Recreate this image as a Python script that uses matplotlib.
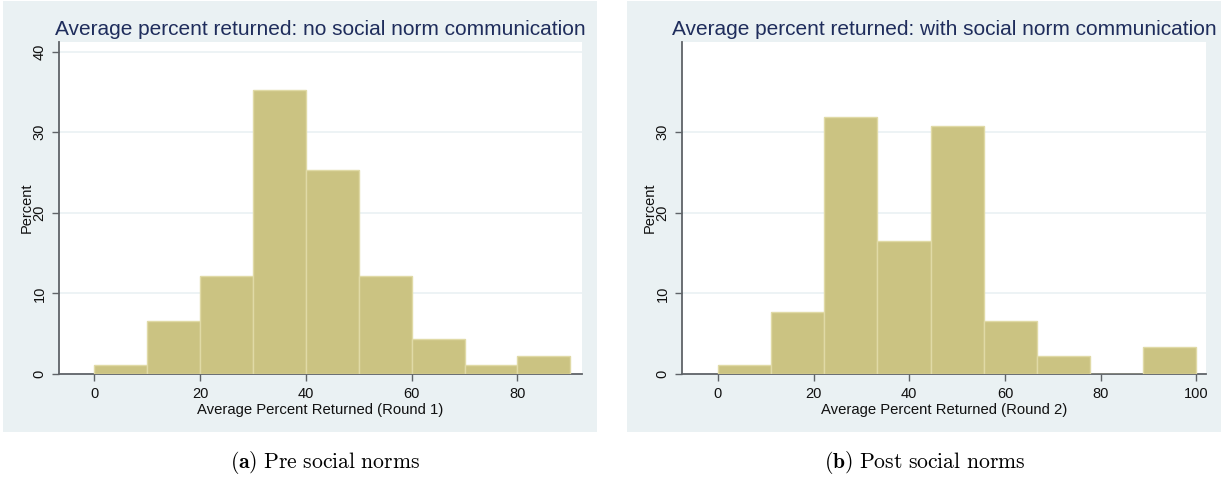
import matplotlib
matplotlib.use("Agg")
import matplotlib.pyplot as plt
import matplotlib.patches as patches

# histogram data (percent of subjects per bin)
bins_r1 = [0, 10, 20, 30, 40, 50, 60, 70, 80]
pct_r1 = [1.1, 6.6, 12.1, 35.2, 25.3, 12.1, 4.4, 1.1, 2.2]
width_r1 = 10

bins_r2 = [0, 11.11, 22.22, 33.33, 44.44, 55.56, 66.67, 77.78, 88.89]
pct_r2 = [1.1, 7.7, 31.9, 16.5, 30.8, 6.6, 2.2, 0, 3.3]
width_r2 = 11.11

titles = ["Average percent returned: no social norm communication",
          "Average percent returned: with social norm communication"]
xlabels = ["Average Percent Returned (Round 1)",
           "Average Percent Returned (Round 2)"]
captions = [r"$\mathbf{(a)}\ \mathrm{Pre\ social\ norms}$",
            r"$\mathbf{(b)}\ \mathrm{Post\ social\ norms}$"]
xticks = [[0, 20, 40, 60, 80], [0, 20, 40, 60, 80, 100]]
yticks = [[0, 10, 20, 30, 40], [0, 10, 20, 30]]

plt.rcParams['font.family'] = ['Liberation Sans', 'DejaVu Sans']
plt.rcParams['mathtext.fontset'] = 'cm'

W, H = 1225, 479
fig = plt.figure(figsize=(W / 100, H / 100), dpi=100)

bg = "#eaf1f3"
bar_fc = "#cbc382"
bar_ec = "#e0daa6"
axis_c = "#5f6368"
title_c = "#1f2d5c"

# outer panel backgrounds (pixels -> figure fraction)
for x0, x1 in [(3, 597), (627, 1221)]:
    fig.patches.append(patches.Rectangle((x0 / W, 1 - 432 / H), (x1 - x0) / W, (432 - 1) / H,
                                         transform=fig.transFigure, facecolor=bg,
                                         edgecolor="none", zorder=-5))

ax_pos = [(59, 582), (682, 1206)]
xlims = [(-6.7, 92.2), (-7.5, 102.0)]
data = [(bins_r1, pct_r1, width_r1), (bins_r2, pct_r2, width_r2)]
cap_x = [325, 925]

for i in range(2):
    l, r = ax_pos[i]
    ax = fig.add_axes([l / W, 1 - 374 / H, (r - l) / W, (374 - 42) / H])
    ax.set_zorder(2)
    ax.set_facecolor("white")
    b, p, w = data[i]
    ax.bar(b, p, width=w, align="edge", color=bar_fc, edgecolor=bar_ec,
           linewidth=1.0, zorder=3)
    ax.set_xlim(*xlims[i])
    ax.set_ylim(0, 41.2)
    ax.set_xticks(xticks[i])
    ax.set_yticks(yticks[i])
    for t in yticks[i][1:]:
        ax.axhline(t, color="#edf3f5", linewidth=1.4, zorder=1)
    for s in ["top", "right"]:
        ax.spines[s].set_visible(False)
    for s in ["left", "bottom"]:
        ax.spines[s].set_color(axis_c)
        ax.spines[s].set_linewidth(1.3)
    ax.tick_params(axis="both", length=5, width=1.0, color=axis_c,
                   labelsize=10.5, pad=4, labelcolor="#111111")
    for lab in ax.get_yticklabels():
        lab.set_rotation(90)
        lab.set_va("center")
    ax.set_xlabel(xlabels[i], fontsize=10.7, labelpad=2, color="#111111")
    ax.set_ylabel("Percent", fontsize=10.5, labelpad=-1, color="#111111")
    fig.text((l + r) / 2 / W, 1 - 35 / H, titles[i], ha="center", va="baseline",
             fontsize=15, color=title_c, zorder=5)
    fig.text(cap_x[i] / W, 1 - 463 / H, captions[i], ha="center", va="center",
             fontsize=15.6, color="black")

fig.savefig("out.png", dpi=100)
